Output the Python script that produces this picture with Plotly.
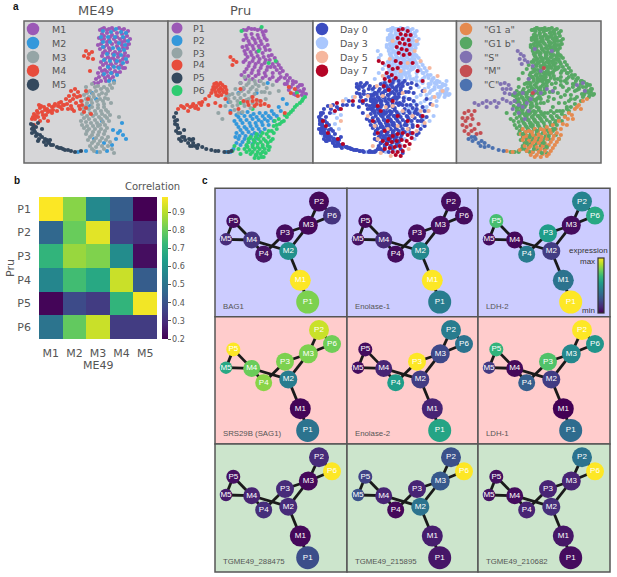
import plotly.graph_objects as go

W, H = 617, 577

# umap coordinates, one list per cluster
ME49_M1 = [(76,9),(80,7),(85,8),(90,9),(95,7),(100,8),(104,10),(78,13),(83,12),(88,14),(93,12),(98,13),(103,15),(106,18),(75,17),(80,18),(85,19),(90,18),(96,18),(101,20),(105,23),(77,23),(83,24),(88,23),(93,25),(98,24),(103,27),(76,28),(81,30),(86,29),(91,31),(96,30),(101,32),(104,35),(78,35),(84,36),(89,37),(94,36),(99,38),(103,41),(77,41),(82,42),(87,43),(92,42),(97,44),(101,47),(76,47),(81,49),(86,48),(91,50),(96,51),(74,52),(79,54),(84,55),(89,56),(72,58),(77,60),(82,60),
           (78,8),(83,9),(88,7),(98,9),(102,12),(80,15),(86,16),(93,16),(100,17),(78,19),(83,21),(92,21),(98,21),(103,24),(80,26),(85,27),(94,27),(99,27),(74,24),(79,32),(84,32),(89,33),(94,33),(100,35),(81,38),(86,38),(91,39),(96,40),(79,44),(84,45),(89,45),(94,46),(99,47),(78,50),(83,51),(88,52),(93,52),(75,56),(81,57),(86,58),(74,62),(70,62)]
ME49_M2 = [(79,10),(87,11),(92,8),(97,11),(102,12),(77,16),(84,16),(91,16),(99,16),(104,20),(79,21),(86,21),(95,22),(101,24),(79,26),(89,27),(95,28),(100,29),(83,33),(90,34),(97,34),(102,38),(80,39),(86,40),(93,40),(99,42),(84,46),(90,46),(95,47),(80,53),(87,52),(93,54),(85,60),(90,60),(68,72),(72,78),(66,85),(78,100),(62,86),(89,109),(94,112),(99,114),(102,118),(92,118),(96,110),(70,118),(80,122),(88,124),(73,131),(62,130),(54,131),(83,130),(98,102)]
ME49_M3 = [(68,63),(74,65),(80,66),(86,64),(90,62),(62,66),(66,70),(72,70),(78,72),(84,70),(60,74),(65,76),(70,76),(76,78),(81,77),(58,80),(63,82),(68,82),(74,84),(80,83),(60,87),(65,88),(71,90),(77,90),(82,89),(58,93),(63,95),(69,95),(75,96),(81,95),(86,94),(57,100),(62,101),(67,102),(73,102),(79,101),(85,100),(60,107),(65,108),(71,108),(77,108),(83,107),(62,113),(68,114),(74,114),(80,113),(64,119),(70,120),(76,120),(82,119),(66,125),(72,126),(78,125),(84,125),(70,130),(76,131),(68,122),(74,105),(88,128),(90,132),(95,96),(87,82),
           (71,66),(77,68),(83,68),(88,67),(63,72),(69,73),(75,74),(82,73),(62,78),(67,79),(73,80),(79,80),(84,78),(62,85),(68,86),(74,87),(80,86),(60,90),(66,92),(72,93),(78,93),(84,91),(60,97),(65,98),(71,99),(77,98),(83,97),(58,104),(63,105),(69,105),(76,104),(81,104),(63,110),(69,111),(75,111),(81,110),(66,116),(72,117),(78,117),(84,116),(68,128),(74,123),(80,128),(86,121)]
ME49_M4 = [(62,30),(65,33),(68,31),(64,37),(69,38),(60,35),(66,50),(62,70),(8,98),(10,93),(13,90),(16,87),(12,95),(18,91),(20,86),(15,84),(23,88),(25,84),(28,86),(31,83),(34,85),(37,81),(40,84),(42,78),(45,75),(47,70),(51,68),(54,71),(49,78),(44,88),(52,82),(56,88),(60,91),(58,84),(47,85),(38,88),(22,94),(28,92),(16,100),(10,104),(24,100),(50,90),(64,78),(56,75),(67,93),(20,97),(14,96),(26,90),(33,90),
           (11,98),(14,92),(19,94),(24,91),(21,89),(29,89),(35,82),(39,84),(43,83),(46,80),(50,74),(53,76),(57,80),(55,85),(62,87),(48,88),(9,96),(17,85),(30,85),(36,86)]
ME49_M5 = [(7,103),(9,107),(11,111),(8,112),(12,115),(15,118),(18,116),(20,121),(23,119),(25,122),(27,124),(14,102),(18,108),(33,126),(37,127),(41,129),(44,129),(47,130),(51,131),(57,130),(12,106),(22,124),
           (9,104),(10,109),(13,113),(16,114),(21,118),(24,121),(29,124),(35,127),(39,128),(8,108),(14,120),(26,119)]

PRU_P1 = [(75,9),(80,7),(86,8),(92,8),(97,10),(77,14),(83,13),(89,14),(95,14),(75,19),(80,20),(86,19),(92,20),(98,19),(78,25),(84,25),(90,25),(96,26),(101,29),(76,30),(82,31),(88,31),(94,32),(100,35),(106,37),(79,36),(85,37),(91,38),(97,39),(104,43),(110,44),(75,41),(81,42),(87,43),(93,44),(99,46),(108,49),(114,50),(118,54),(78,48),(84,49),(90,50),(96,52),(104,52),(112,56),(119,60),(124,60),(73,54),(80,55),(87,55),(94,57),(101,58),(108,60),(116,63),(122,66),(127,61),(131,64),(135,68),(137,73),(133,74),(128,70),(125,73),(131,70),(72,62),(75,68),
          (78,9),(83,8),(89,9),(94,11),(78,17),(84,17),(90,17),(96,17),(81,23),(87,22),(93,23),(99,24),(74,26),(79,28),(85,28),(91,28),(97,29),(103,34),(77,33),(83,34),(89,35),(95,36),(101,39),(108,41),(77,39),(84,40),(90,41),(96,42),(102,46),(106,46),(112,47),(116,57),(80,45),(86,46),(92,47),(98,49),(111,52),(121,57),(76,51),(83,52),(90,53),(97,55),(104,56),(110,58),(118,63),(124,63),(120,69),(129,66),(134,71),(77,58),(84,58),(91,60),(127,74),(133,64)]
PRU_P2 = [(68,94),(73,92),(79,91),(85,93),(91,92),(97,92),(103,90),(110,86),(66,100),(72,99),(78,99),(84,98),(90,99),(96,98),(102,97),(108,95),(70,106),(76,106),(82,105),(88,105),(94,104),(100,104),(68,112),(74,112),(80,111),(86,112),(92,111),(70,118),(76,118),(82,117),(88,117),(72,124),(78,125),(84,123),(65,128),(62,131),(58,131),(114,78),(118,83),(112,90),(62,90),(60,81),(70,72),(88,72),(99,62),
          (70,96),(76,95),(82,95),(88,96),(94,95),(100,95),(105,93),(68,103),(74,102),(81,102),(87,102),(93,101),(99,100),(105,100),(72,109),(78,108),(84,108),(90,108),(96,108),(71,115),(77,115),(83,114),(89,114),(74,121),(80,121),(86,120),(68,122),(67,116)]
PRU_P3 = [(76,56),(81,59),(86,60),(72,62),(78,64),(84,66),(90,65),(98,67),(104,64),(67,68),(73,70),(80,71),(86,73),(93,71),(101,72),(61,74),(66,77),(72,77),(78,79),(84,82),(58,75),(62,81),(69,84),(76,85),(82,87),(74,91),(57,85),(50,92),(54,98),(66,89),(91,80),(97,78),(92,60),(110,70),
          (80,62),(87,63),(95,63),(75,67),(82,68),(88,69),(96,71),(70,73),(76,74),(83,76),(64,73),(69,80),(75,82),(80,78),(64,85),(70,92),(60,78)]
PRU_P4 = [(45,66),(48,62),(52,62),(44,69),(48,66),(52,67),(56,66),(47,71),(51,71),(55,71),(50,75),(58,72),(58,69),(10,88),(13,85),(16,87),(19,84),(22,86),(25,83),(28,85),(31,82),(34,81),(37,78),(41,75),(20,90),(30,88),(62,36),(65,39),(68,41),(64,44),(40,84),(47,82),(52,85),(62,92),(70,88),(75,80),(84,76),(88,79),(92,80),(96,83),(100,85),(80,84),(86,85),(122,72),(126,68),(129,75),(120,66),(57,78),(72,68),(116,92),
          (46,63),(50,64),(54,64),(46,68),(50,69),(54,69),(48,74),(53,74),(43,72),(57,66),(15,86),(24,85),(27,87),(33,84),(88,83),(92,84),(84,80),(79,81)]
PRU_P5 = [(8,92),(6,96),(9,99),(7,103),(10,107),(8,110),(12,112),(14,116),(11,118),(17,119),(20,122),(23,119),(25,122),(27,125),(24,125),(30,124),(34,126),(38,128),(43,129),(47,130),(50,130),(56,131),(60,131),(63,130),(16,109),
          (7,100),(9,104),(10,112),(13,120),(16,116),(21,118),(25,118),(29,127),(22,125)]
PRU_P6 = [(80,118),(85,119),(90,118),(95,118),(100,116),(105,112),(78,124),(84,124),(89,123),(94,124),(99,122),(104,118),(108,108),(76,128),(81,129),(86,128),(91,128),(96,128),(101,126),(82,133),(87,134),(92,133),(97,132),(86,137),(90,137),(95,136),(111,103),(115,100),(120,93),(124,89),(128,84),(133,80),(136,76),(106,100),(110,98),(100,110),(94,112),(88,113),(70,128),(66,125),(64,130),(72,133),(116,94),(73,10),(93,6),(90,30),(100,42),(107,40),(128,72),(72,82),(84,88),
          (82,116),(87,116),(92,115),(98,113),(103,110),(80,121),(86,121),(92,121),(97,120),(102,120),(79,126),(84,126),(89,126),(94,126),(99,125),(84,131),(89,131),(94,131),(100,129),(78,131),(88,134),(93,136),(108,104),(113,101),(118,96),(122,91),(126,86),(131,82),(134,78),(105,105)]

# the other two panels show the same cells, split by day and by cell cycle
BULGE_CELLS = [(100,48),(105,50),(110,52),(115,54),(120,58),(125,60),(130,63),(134,68),(136,74),(132,76),(126,76),(120,76),(114,74),(108,74),(104,76),(98,58),(104,60),(110,62),(116,66),(122,68),(128,72),(112,80),(118,78),(124,80),(108,82),(114,86),(102,82),(96,86),(92,76),(88,58),(62,58),(66,52),(70,48),(72,44),(60,70),(56,74),(64,92),(88,92),(94,90),(100,90),(106,90),(110,88),(106,66),(112,68),(118,70),(126,66),(132,72)]
DAY3_EXTRA = [(21,92),(24,97),(22,103),(26,108),(28,94),(65,30),(68,34),(66,37),(107,92),(112,97),(117,100),(121,95),(110,104),(115,90),(124,85),(117,72),(122,62),(128,66),(134,60),(40,76),(33,78),(16,112),(20,116),(10,114)]
DAY0_EXTRA = [(44,63),(48,62),(52,64),(56,68),(46,68),(51,70),(58,74),(48,76),(53,79),(60,84),(55,88),(86,76),(91,77),(96,78),(101,80),(104,84),(88,83),(94,84),(100,87),(8,94),(11,88),(15,85),(20,84),(26,88),(13,96),(9,102),(17,92),(22,113),(28,116),(40,84),(34,84),(46,86),(108,108),(104,114),(110,100),(114,96),
              (44,66),(47,65),(50,66),(54,62),(57,65),(60,68),(44,72),(47,73),(51,73),(55,74),(58,78),(62,72),(50,82),(47,80),(54,84),(58,88),(62,92),(64,80),(36,80),(30,84),(24,86),(18,88),(10,92),(7,98),(12,100),(16,104),(6,108),(12,108),(20,110),(26,118),(86,84),(92,88),(98,84),(104,88),(109,96),(112,105),(106,112),(100,106),(98,112),(92,104),(86,110),(80,104),(74,118),(68,106),(62,118),(66,128),(108,100),(90,84),(96,90),(102,92)]
DAY5 = [(80,20),(104,20),(77,38),(102,30),(70,55),(88,50),(95,42),(108,40),(117,47),(125,55),(130,70),(122,76),(112,70),(64,65),(55,75),(70,75),(80,85),(90,90),(100,95),(108,90),(116,90),(120,84),(104,110),(95,108),(85,105),(75,108),(65,118),(60,125),(68,132),(78,135),(96,128),(42,76),(30,80),(18,85),(28,100),(55,95),(62,105),(112,102),(73,86),(90,72)]
DAY7 = [(86,9),(90,8),(95,10),(88,13),(93,14),(98,14),(85,17),(90,18),(96,19),(87,22),(92,23),(97,24),(84,26),(89,28),(94,29),(86,32),(91,34),(97,33),(83,40),(88,42),(76,45),(80,48),(85,47),(74,52),(79,54),(72,58),(77,60),(83,57),(71,65),(76,69),(66,40),(70,42),(100,42),(105,50),(110,60),(76,118),(80,115),(85,113),(90,112),(95,114),(74,123),(79,121),(84,120),(89,119),(94,120),(99,117),(72,128),(77,127),(82,126),(87,125),(92,125),(97,123),(80,131),(85,131),(90,130),(83,134),(88,135),(100,112),(70,120),(60,100),(68,90),(75,100),(85,95),(95,100),(105,105),(110,95),(65,85),(50,80),(40,80),(28,88),(22,90),(10,100),(15,112),(25,118),(30,123),(13,105),(80,80),(72,110),(65,112),(24,82)]

G1A = [(66,108),(72,110),(78,108),(84,108),(90,106),(96,104),(102,100),(108,96),(112,92),(118,88),(122,84),(126,80),(116,98),(110,104),(104,108),(64,113),(70,115),(76,114),(82,114),(88,112),(94,112),(100,112),(104,114),(66,119),(72,120),(78,120),(84,119),(90,118),(96,118),(102,118),(68,125),(74,125),(80,126),(86,125),(92,124),(98,124),(70,130),(76,131),(82,131),(88,130),(94,130),(78,136),(84,136),(90,135),(50,130),(56,131),(63,129),
       (69,111),(75,111),(81,111),(87,109),(93,109),(99,108),(106,103),(111,98),(67,116),(73,117),(79,117),(85,116),(91,115),(97,115),(70,122),(76,122),(82,122),(88,122),(94,121),(100,121),(72,127),(78,128),(84,128),(90,127),(96,127),(74,134),(80,134),(86,133),(92,133),(115,94),(120,86),(124,88),(130,78)]
G1B_EXTRA = [(73,116),(80,110),(87,122),(92,115),(77,128),(85,132),(70,122),(98,108),(66,113),(90,126)]
S_PHASE = [(61,30),(64,33),(67,35),(63,38),(68,39),(71,41),(65,43),(44,63),(48,62),(52,64),(46,68),(50,68),(54,68),(48,72),(53,73),(58,72),(18,82),(22,84),(26,82),(30,80),(34,82),(38,80),(42,82),(46,78),(50,80),(54,82),(58,80),(62,84),(66,86),(70,82),(74,78),(78,70),(84,72),(90,68),(96,70),(72,90),(62,92),(68,98),(120,64),(126,62),(128,70),(84,50),(76,45),(78,28),(95,30),(72,58),(66,72),(56,88),(40,86),(30,86)]
M_PHASE = [(8,92),(6,97),(9,100),(6,104),(10,106),(8,110),(12,113),(15,94),(12,90),(16,98),(14,104),(18,108),(20,113),(15,110),(24,112),(11,97),(22,103),(18,90),(87,47),(76,72)]
C_PHASE = [(12,118),(16,120),(19,118),(22,122),(25,120),(28,122),(24,125),(28,126),(32,125),(18,116),(36,127),(42,129),(47,130),(15,116)]

# panel b
CLUSTER_M = ["M1", "M2", "M3", "M4", "M5"]
CLUSTER_P = ["P1", "P2", "P3", "P4", "P5", "P6"]
CORRELATION = [
    [0.98, 0.84, 0.57, 0.43, 0.20],
    [0.46, 0.80, 0.95, 0.36, 0.31],
    [0.71, 0.86, 0.83, 0.58, 0.23],
    [0.56, 0.74, 0.67, 0.92, 0.43],
    [0.21, 0.38, 0.34, 0.71, 0.97],
    [0.50, 0.79, 0.92, 0.34, 0.34],
]
CORR_TICKS = [0.2, 0.3, 0.4, 0.5, 0.6, 0.7, 0.8, 0.9]

# panel c: shared graph layout, then relative expression per node
NODE_NAMES = ["P2", "P6", "M3", "P3", "P5", "M5", "M4", "P4", "M2", "M1", "P1"]
NODE_X = [104, 117, 93.3, 70, 18.3, 11, 36.7, 48.7, 73.3, 85.3, 92.7]
NODE_Y = [13.3, 27.3, 37, 45, 32.7, 51, 51.7, 66, 62.7, 92, 113.7]
NODE_SIZE = [20, 18, 19, 18, 14, 12.5, 17, 17, 18, 21, 23]
EDGES = [("P2","M3"),("P6","M3"),("P2","P6"),("P3","M3"),("M2","M3"),("P3","P4"),("M4","M2"),
         ("P4","M4"),("P5","M5"),("P5","M4"),("M5","M4"),("M2","M1"),("M1","P1")]
GENES = ["BAG1", "Enolase-1", "LDH-2", "SRS29B (SAG1)", "Enolase-2", "LDH-1",
         "TGME49_288475", "TGME49_215895", "TGME49_210682"]
EXPRESSION = [
    [.02, .15, .02, .03, .03, .12, .15, .05, .50, 1.0, .80],
    [.03, .03, .03, .03, .02, .05, .12, .03, .47, 1.0, .42],
    [.45, .60, .03, .55, .70, .03, .02, .42, .18, .38, 1.0],
    [.92, .78, .80, .80, 1.0, .60, .77, .82, .42, .01, .38],
    [.42, .38, .22, 1.0, .03, .03, .10, .55, .18, .10, .58],
    [1.0, .52, .47, .72, .65, .17, .02, .30, .18, .00, .35],
    [.12, 1.0, .02, .12, .04, .07, .10, .13, .12, .02, .24],
    [.25, 1.0, .28, .10, .20, .25, .10, .02, .38, .08, .06],
    [.38, 1.0, .10, .10, .04, .05, .03, .10, .13, .06, .03],
]

PURPLE, BLUE, GRAY, RED, DARK, GREEN = "#9b59b6", "#3498db", "#95a5a6", "#e74c3c", "#34495e", "#2ecc71"
TEXT_GRAY = "#555555"
SANS = "DejaVu Sans"
ARIAL = "Liberation Sans"

fig = go.Figure()
shapes = []
annotations = []
n_axes = 0


def add_axes(left, top, right, bottom, x_range, y_range, **extra):
    """axes placed by pixel box, returns the trace refs"""
    global n_axes
    n_axes += 1
    xa = dict(domain=[left / W, right / W], range=x_range, visible=False, anchor=f"y{n_axes}")
    ya = dict(domain=[1 - bottom / H, 1 - top / H], range=y_range, visible=False, anchor=f"x{n_axes}")
    xa.update(extra.get("xaxis", {}))
    ya.update(extra.get("yaxis", {}))
    fig.layout[f"xaxis{n_axes}"] = xa
    fig.layout[f"yaxis{n_axes}"] = ya
    return f"x{n_axes}", f"y{n_axes}"


def box(left, top, right, bottom, fill, border="#666666", width=1.5):
    shapes.append(dict(type="rect", xref="paper", yref="paper", x0=left / W, x1=right / W,
                       y0=1 - bottom / H, y1=1 - top / H, fillcolor=fill,
                       line=dict(color=border, width=width), layer="below"))


def label(x, y, text, size=9.5, color=TEXT_GRAY, anchor="left", family=SANS):
    # annotations keep a small pad round the text
    if anchor == "left":
        x -= 1.5
    elif anchor == "right":
        x += 1.5
    annotations.append(dict(x=x / W, y=1 - y / H, xref="paper", yref="paper", text=text, showarrow=False,
                            xanchor=anchor, yanchor="middle", font=dict(size=size, color=color, family=family)))


def legend_dot(x, y, size, color):
    shapes.append(dict(type="circle", xref="paper", yref="paper", x0=(x - size / 2) / W, x1=(x + size / 2) / W,
                       y0=1 - (y + size / 2) / H, y1=1 - (y - size / 2) / H, fillcolor=color, line_width=0))


def scatter_panel(left, right, fill, groups, marker_size, dot_x, text_x, legend_rows, dot_size):
    box(left, 21, right, 163, fill)
    xref, yref = add_axes(left, 21, right, 163, [0, 144], [142, 0])
    for pts, color in groups:
        fig.add_trace(go.Scatter(x=[p[0] for p in pts], y=[p[1] for p in pts], mode="markers", xaxis=xref, yaxis=yref,
                                 marker=dict(size=marker_size, color=color, opacity=1, line_width=0), showlegend=False))
    for name, y, color in legend_rows:
        legend_dot(dot_x, y, dot_size, color)
        label(text_x, y, name)


scatter_panel(24, 168, "#d6d6d8",
              [(ME49_M1, PURPLE), (ME49_M2, BLUE), (ME49_M3, GRAY), (ME49_M4, RED), (ME49_M5, DARK)], 4.2,
              33, 51, list(zip(["M1", "M2", "M3", "M4", "M5"], [29, 43, 57, 70.7, 84.7],
                               [PURPLE, BLUE, GRAY, RED, DARK])), 12.5)
scatter_panel(168, 313, "#d6d6d8",
              [(PRU_P1, PURPLE), (PRU_P2, BLUE), (PRU_P6, GREEN), (PRU_P3, GRAY), (PRU_P4, RED), (PRU_P5, DARK)], 4.2,
              177, 192, list(zip(CLUSTER_P, [28, 40.5, 53, 65, 78, 90.5],
                                 [PURPLE, BLUE, GRAY, RED, DARK, GREEN])), 11)

day_colors = ["#3b4cc0", "#aac7fd", "#f6b79e", "#b40426"]
day0 = ME49_M3 + PRU_P2 + PRU_P3 + PRU_P5 + ME49_M5 + DAY0_EXTRA
day3 = ME49_M1 + ME49_M2 + PRU_P1 + DAY3_EXTRA + BULGE_CELLS
scatter_panel(313, 456.5, "#ffffff",
              [(day3, day_colors[1]), (day0, day_colors[0]), (DAY5, day_colors[2]), (DAY7, day_colors[3])], 4.2,
              322, 339, list(zip(["Day 0", "Day 3", "Day 5", "Day 7"], [29, 43, 57, 70.7], day_colors)), 12.5)

phase_colors = ["#e58a4f", "#57a864", "#8172b2", "#c44e52", "#4c72b0"]
g1b = ME49_M1 + ME49_M2 + PRU_P1 + PRU_P3 + ME49_M3 + PRU_P2 + BULGE_CELLS
scatter_panel(456.5, 601, "#d6d6d8",
              [(g1b, phase_colors[1]), (G1A, phase_colors[0]), (G1B_EXTRA, phase_colors[1]), (S_PHASE, phase_colors[2]),
               (M_PHASE, phase_colors[3]), (C_PHASE, phase_colors[4])], 4.2,
              466, 483, list(zip(['"G1 a"', '"G1 b"', '"S"', '"M"', '"C"'], [29, 43, 57, 71, 85], phase_colors)), 12.5)

label(96, 11, "ME49", size=13, anchor="center")
label(240, 11, "Pru", size=13, anchor="center")
label(16, 6, "<b>a</b>", size=10, color="#111111", family=ARIAL, anchor="center")
label(17, 180, "<b>b</b>", size=10, color="#111111", family=ARIAL, anchor="center")
label(205, 180, "<b>c</b>", size=10, color="#111111", family=ARIAL, anchor="center")

# heatmap
xref, yref = add_axes(39, 197, 157, 339, None, None,
                      xaxis=dict(visible=True, showgrid=False, zeroline=False, ticks="", range=None, ticklabelstandoff=6,
                                 tickfont=dict(size=11, color=TEXT_GRAY, family=SANS)),
                      yaxis=dict(visible=True, showgrid=False, zeroline=False, ticks="", range=None, autorange="reversed",
                                 ticklabelstandoff=7, tickfont=dict(size=11, color=TEXT_GRAY, family=SANS)))
fig.add_trace(go.Heatmap(z=CORRELATION, x=CLUSTER_M, y=CLUSTER_P, xaxis=xref, yaxis=yref, colorscale="Viridis",
                         zmin=0.2, zmax=0.983, xgap=0, ygap=0,
                         colorbar=dict(x=162 / W, xanchor="left", y=1 - 197 / H, yanchor="top", len=142 / H,
                                       thickness=5.5, outlinewidth=0, xpad=0, ypad=0, tickvals=CORR_TICKS,
                                       ticks="outside", ticklen=3, tickcolor=TEXT_GRAY,
                                       tickfont=dict(size=8, color=TEXT_GRAY, family=SANS))))
label(152, 187, "Correlation", size=10, anchor="center")
label(98, 365, "ME49", size=11, anchor="center")
annotations.append(dict(x=10 / W, y=1 - 268 / H, xref="paper", yref="paper", text="Pru", showarrow=False, textangle=-90,
                        xanchor="center", yanchor="middle", font=dict(size=11, color=TEXT_GRAY, family=SANS)))

# gene network panels
col_edges = [215, 347, 478, 610]
row_edges = [188.3, 316.7, 444, 572]
row_fills = ["#ccccff", "#ffcccc", "#cce5cc"]
node_pos = dict(zip(NODE_NAMES, zip(NODE_X, NODE_Y)))
edge_x, edge_y = [], []
for a, b in EDGES:
    edge_x += [node_pos[a][0], node_pos[b][0], None]
    edge_y += [node_pos[a][1], node_pos[b][1], None]

for i, gene in enumerate(GENES):
    row, col = i // 3, i % 3
    left, right = col_edges[col], col_edges[col + 1]
    top, bottom = row_edges[row], row_edges[row + 1]
    box(left, top, right, bottom, row_fills[row], border="#555555")
    xref, yref = add_axes(left, top, right, bottom, [0, right - left], [bottom - top, 0])
    fig.add_trace(go.Scatter(x=edge_x, y=edge_y, mode="lines", xaxis=xref, yaxis=yref, showlegend=False,
                             line=dict(color="#1a1a1a", width=2.8)))
    marker = dict(size=NODE_SIZE, color=EXPRESSION[i], colorscale="Viridis", cmin=0, cmax=1, opacity=1, line_width=0)
    if i == 2:
        marker["showscale"] = True
        marker["colorbar"] = dict(x=597.7 / W, xanchor="left", y=1 - 258 / H, yanchor="top", len=55 / H,
                                  thickness=6, outlinecolor="#333333", outlinewidth=1.2, xpad=0, ypad=0,
                                  ticks="", showticklabels=False)
    fig.add_trace(go.Scatter(x=NODE_X, y=NODE_Y, mode="markers+text", text=NODE_NAMES, xaxis=xref, yaxis=yref,
                             textposition="middle center", showlegend=False, marker=marker,
                             textfont=dict(size=8, color="white", family=ARIAL)))
    label(left + 7, bottom - 10.5, gene, size=7.8, family=ARIAL)

label(608.5, 250.7, "expression", size=8, color="#333333", anchor="right", family=ARIAL)
label(595.5, 261, "max", size=8, color="#333333", anchor="right", family=ARIAL)
label(595.5, 310.6, "min", size=8, color="#333333", anchor="right", family=ARIAL)

fig.update_layout(width=W, height=H, margin=dict(l=0, r=0, t=0, b=0), paper_bgcolor="white", plot_bgcolor="rgba(0,0,0,0)",
                  shapes=shapes, annotations=annotations, showlegend=False)

fig.write_html("out.html", config={"displayModeBar": False},
               post_script="document.body.style.margin='0';document.body.style.overflow='hidden';")
